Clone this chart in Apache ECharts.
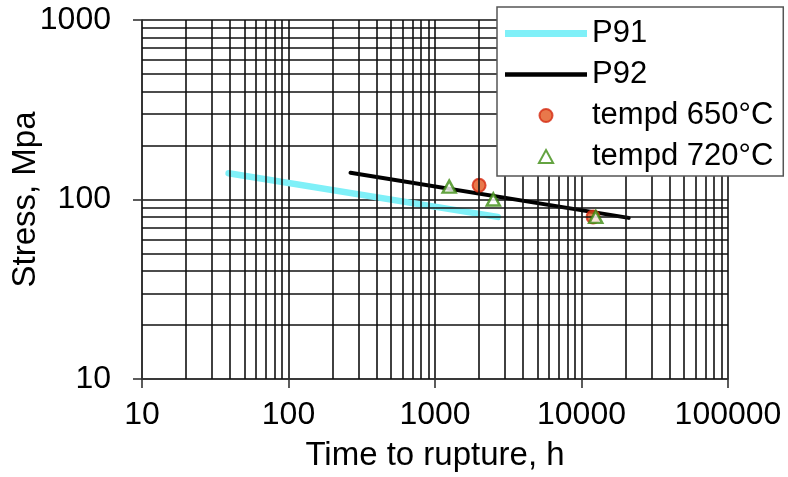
<!DOCTYPE html>
<html>
<head>
<meta charset="utf-8">
<script src="https://cdn.jsdelivr.net/npm/echarts@6/dist/echarts.min.js"></script>
<style>
  html, body { margin: 0; padding: 0; background: #fff; }
  #chart { width: 788px; height: 477px; }
</style>
</head>
<body>
<div id="chart"></div>
<script>
// Creep rupture data: time to rupture (h) vs stress (MPa)
const p91Line = [[39, 140], [2680, 80]];
const p92Line = [[265, 141], [21000, 79]];
const tempd650 = [[2000, 120], [12000, 80]];
const tempd720 = [[1250, 118], [2500, 100], [12500, 80]];

const seriesNames = ['P91', 'P92', 'tempd 650°C', 'tempd 720°C'];

// Minor grid values (2..9 within each decade)
const xMinorGrid = [20, 30, 40, 50, 60, 70, 80, 90,
                    200, 300, 400, 500, 600, 700, 800, 900,
                    2000, 3000, 4000, 5000, 6000, 7000, 8000, 9000,
                    20000, 30000, 40000, 50000, 60000, 70000, 80000, 90000];
const yMinorGrid = [20, 30, 40, 50, 60, 70, 80, 90,
                    200, 300, 400, 500, 600, 700, 800, 900];

const FONT = 'Liberation Sans, Arial, sans-serif';
const GRID_COLOR = '#111111';
const GRID_WIDTH = 1.6;

const chart = echarts.init(document.getElementById('chart'), null, { renderer: 'canvas' });

const minorLines = [
  ...xMinorGrid.map(v => ({ xAxis: v })),
  ...yMinorGrid.map(v => ({ yAxis: v }))
];

chart.setOption({
  animation: false,
  backgroundColor: '#ffffff',
  grid: { left: 142, right: 60, top: 20, bottom: 98, containLabel: false, outerBoundsMode: 'none' },
  xAxis: {
    type: 'log', logBase: 10, min: 10, max: 100000,
    name: 'Time to rupture, h', nameLocation: 'middle', nameGap: 60,
    nameTextStyle: { fontFamily: FONT, fontSize: 33, color: '#000' },
    axisLine: { show: true, onZero: false, lineStyle: { color: '#333', width: 1.6 } },
    axisTick: { show: true, inside: false, length: 9, lineStyle: { color: '#333', width: 1.6 } },
    axisLabel: { fontFamily: FONT, fontSize: 32, color: '#000', margin: 20,
                 formatter: v => String(Math.round(v)) },
    splitLine: { show: true, showMinLine: true, showMaxLine: true,
                 lineStyle: { color: GRID_COLOR, width: GRID_WIDTH } },
    minorTick: { show: false }, minorSplitLine: { show: false }
  },
  yAxis: {
    type: 'log', logBase: 10, min: 10, max: 1000,
    name: 'Stress, Mpa', nameLocation: 'middle', nameGap: 100, nameRotate: 90,
    nameMoveOverlap: false,
    nameTextStyle: { fontFamily: FONT, fontSize: 33, color: '#000' },
    axisLine: { show: true, onZero: false, lineStyle: { color: '#333', width: 1.6 } },
    axisTick: { show: true, inside: false, length: 9, lineStyle: { color: '#333', width: 1.6 } },
    axisLabel: { fontFamily: FONT, fontSize: 32, color: '#000', margin: 31,
                 formatter: v => String(Math.round(v)) },
    splitLine: { show: true, showMinLine: true, showMaxLine: true,
                 lineStyle: { color: GRID_COLOR, width: GRID_WIDTH } },
    minorTick: { show: false }, minorSplitLine: { show: false }
  },
  legend: {
    orient: 'vertical', left: 497, top: 7, z: 20,
    data: [
      { name: seriesNames[0], icon: 'path://M0,0H82V7H0Z' },
      { name: seriesNames[1], icon: 'path://M0,0H82V4.5H0Z' },
      { name: seriesNames[2], icon: 'circle' },
      { name: seriesNames[3], icon: 'path://M6,0L12,11L0,11Z' }
    ],
    symbolKeepAspect: true,
    backgroundColor: '#ffffff', borderColor: '#555', borderWidth: 1.5,
    padding: [11, 10, 4, 8], itemGap: 10, itemWidth: 82, itemHeight: 13,
    textStyle: { fontFamily: FONT, fontSize: 31, color: '#000', lineHeight: 30.5 },
    selectedMode: false
  },
  series: [
    {
      name: 'grid-minor', type: 'line', data: [], z: 1, silent: true,
      markLine: {
        silent: true, symbol: ['none', 'none'], animation: false,
        label: { show: false },
        lineStyle: { type: 'solid', color: GRID_COLOR, width: GRID_WIDTH },
        emphasis: { disabled: true },
        data: minorLines
      }
    },
    {
      name: 'P91', type: 'line', data: p91Line, symbol: 'none', z: 3,
      lineStyle: { color: '#7ff0f8', width: 6.5, cap: 'round' },
      itemStyle: { color: '#7ff0f8' }
    },
    {
      name: 'P92', type: 'line', data: p92Line, symbol: 'none', z: 3,
      lineStyle: { color: '#000', width: 4, cap: 'round' },
      itemStyle: { color: '#000' }
    },
    {
      name: 'tempd 650°C', type: 'scatter', data: tempd650, z: 4,
      symbol: 'circle', symbolSize: 13,
      itemStyle: { color: '#e2561e', borderColor: '#d42a12', borderWidth: 2 }
    },
    {
      name: 'tempd 720°C', type: 'scatter', data: tempd720, z: 5,
      symbol: 'triangle', symbolSize: [13, 12],
      itemStyle: { color: '#ffffff', borderColor: '#3d8c12', borderWidth: 2.5 }
    }
  ]
});
</script>
</body>
</html>
